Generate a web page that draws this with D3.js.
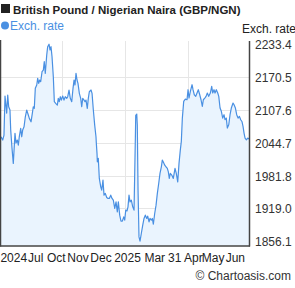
<!DOCTYPE html>
<html>
<head>
<meta charset="utf-8">
<script src="https://cdn.jsdelivr.net/npm/d3@7"></script>
<style>
  body { margin: 0; background: #fff; }
  svg { display: block; font-family: "Liberation Sans", Arial, sans-serif; }
</style>
</head>
<body>
<svg id="chart"></svg>
<script>
// GBP/NGN, day offset from the start of the window and the rate
const days = [0, 0.7, 2.5, 4.4, 5.9, 8.4, 9.9, 11.3, 13.2, 14.3, 16.2, 18.1, 20.6, 22.1, 24.0, 25.5, 26.9, 29.0, 30.5, 31.9,
  33.9, 35.8, 37.8, 40.2, 41.7, 44.2, 46.1, 47.5, 49.0, 50.5, 52.6, 54.0, 55.5, 57.0, 58.4, 60.4, 62.3, 63.7, 65.2, 67.3,
  68.7, 70.7, 72.1, 73.6, 75.1, 77.0, 78.5, 80.5, 82.9, 84.3, 85.8, 87.3, 88.8, 90.8, 92.7, 94.6, 96.7, 98.2, 100.1, 102.0,
  104.1, 106.0, 107.5, 108.9, 110.4, 111.9, 113.3, 115.3, 117.3, 118.8, 120.3, 122.2, 123.6, 125.1, 127.0, 128.5, 130.0, 132.5, 134.0, 135.9,
  137.9, 139.8, 140.3, 141.3, 141.8, 143.2, 144.7, 146.8, 148.2, 150.1, 151.6, 153.5, 155.6, 157.5, 159.4, 161.5, 163.4, 165.3, 167.4, 169.3,
  171.2, 172.7, 174.7, 176.6, 178.6, 180.6, 182.1, 183.6, 185.5, 186.9, 188.4, 189.9, 191.8, 193.9, 195.8, 196.8, 197.7, 198.3, 199.8, 200.6,
  201.7, 203.1, 204.6, 206.5, 208.6, 210.5, 212.4, 214.5, 215.9, 217.9, 219.3, 221.2, 222.7, 224.2, 226.2, 228.2, 230.1, 232.1, 234.0, 236.0,
  237.4, 238.9, 241.0, 242.9, 244.8, 246.3, 247.7, 249.2, 251.3, 253.6, 256.1, 258.0, 260.1, 262.0, 263.9, 265.4, 266.9, 268.9, 271.3, 273.8,
  275.3, 276.7, 278.7, 281.2, 282.6, 284.5, 286.6, 288.5, 290.4, 292.5, 294.4, 296.3, 297.8, 299.9, 301.8, 303.7, 305.7, 308.1, 310.1, 311.6,
  313.5, 315.0, 316.9, 319.0, 320.5, 322.4, 324.3, 326.3, 328.3, 329.7, 331.6, 333.1, 335.2, 337.1, 339.0, 341.5, 343.0, 345.0, 346.9, 348.9,
  350.9, 352.8, 354.8, 356.2, 357.7, 359.2, 361.2, 363.1, 365.0];
const rates = [2056.1, 2054.5, 2049.8, 2059.3, 2134.1, 2101.5, 2136.0, 2113.6, 2107.3, 2068.9, 2034.4, 2005.1, 2062.6, 2044.0, 2049.8, 2040.2, 2056.1, 2072.2, 2056.1, 2068.9,
  2075.2, 2094.4, 2107.3, 2097.7, 2091.3, 2084.8, 2100.9, 2113.6, 2110.5, 2148.9, 2155.2, 2168.0, 2158.4, 2164.8, 2161.5, 2180.7, 2183.9, 2199.9, 2177.6, 2212.7,
  2228.6, 2233.4, 2222.3, 2228.6, 2209.4, 2171.1, 2123.2, 2120.1, 2116.8, 2129.7, 2123.2, 2132.8, 2126.4, 2134.1, 2126.4, 2132.8, 2129.7, 2132.8, 2145.6, 2129.7,
  2123.2, 2148.9, 2164.8, 2155.2, 2177.6, 2164.8, 2158.4, 2139.3, 2129.7, 2113.6, 2129.7, 2126.4, 2123.2, 2126.4, 2110.5, 2129.7, 2142.3, 2145.6, 2139.3, 2107.3,
  2078.5, 2056.1, 2044.0, 2024.3, 2008.2, 2014.7, 1976.3, 1960.2, 1953.9, 1973.1, 1944.3, 1947.6, 1939.9, 1938.0, 1938.0, 1944.3, 1938.0, 1934.7, 1918.8, 1931.5,
  1912.3, 1931.5, 1906.0, 1894.5, 1894.5, 1902.7, 1896.4, 1915.6, 1914.2, 1921.9, 1944.3, 1931.5, 1934.7, 1921.9, 1915.6, 1985.9, 2049.8, 2097.1, 2099.6, 2078.5,
  1953.9, 1864.4, 1856.1, 1870.9, 1886.8, 1899.7, 1906.0, 1899.7, 1904.1, 1893.1, 1899.7, 1896.4, 1899.7, 1888.7, 1909.2, 1925.1, 1947.6, 1966.7, 1985.9, 1998.6,
  2011.4, 2007.6, 2001.8, 1998.6, 1995.5, 1989.0, 1976.3, 1985.9, 1982.7, 1976.3, 1995.5, 1985.9, 1969.8, 2005.1, 2030.6, 2047.3, 2091.9, 2123.9, 2128.3, 2127.0,
  2146.2, 2130.3, 2143.1, 2155.8, 2146.2, 2136.6, 2133.5, 2139.9, 2146.2, 2136.6, 2127.0, 2114.4, 2127.0, 2130.3, 2133.5, 2139.9, 2133.5, 2139.9, 2152.7, 2139.9,
  2146.2, 2139.9, 2146.2, 2139.9, 2133.5, 2111.1, 2104.8, 2091.9, 2098.3, 2088.7, 2091.9, 2072.8, 2079.1, 2098.3, 2111.1, 2120.7, 2117.4, 2111.1, 2098.3, 2091.9,
  2095.2, 2088.7, 2084.8, 2076.0, 2063.2, 2053.6, 2050.3, 2053.6, 2051.7];

const yTicks = [2233.4, 2170.5, 2107.6, 2044.7, 1981.8, 1919.0, 1856.1];
const xLabels = ["2024", "Jul", "Oct", "Nov", "Dec", "2025", "Mar", "31 Apr", "May", "Jun"];
const xLabelDays = [18.8, 51.1, 81.4, 113.3, 147.2, 186.2, 226.3, 271.3, 312.1, 344.9];
const gridDays = [90.2, 183.0, 274.8];

const W = 295, H = 288;
const plotL = 1, plotR = 249, plotT = 41, plotB = 245.5;

const svg = d3.select("#chart").attr("width", W).attr("height", H);

const x = d3.scaleLinear().domain([0, 365]).range([plotL, plotR]);
const y = d3.scaleLinear().domain([1847.9, 2239.5]).range([plotB, plotT]);

// grid
svg.append("g").selectAll("line")
  .data(yTicks.slice(1, -1)).enter().append("line")
  .attr("x1", plotL).attr("x2", plotR)
  .attr("y1", d => Math.round(y(d)) + 0.5).attr("y2", d => Math.round(y(d)) + 0.5)
  .attr("stroke", "#e6e6e6");
svg.append("g").selectAll("line")
  .data(gridDays).enter().append("line")
  .attr("x1", d => Math.round(x(d)) + 0.5).attr("x2", d => Math.round(x(d)) + 0.5)
  .attr("y1", plotT).attr("y2", plotB)
  .attr("stroke", "#e6e6e6");

const pts = days.map((d, i) => [d, rates[i]]);

svg.append("path")
  .datum(pts)
  .attr("fill", "#eaf4fe")
  .attr("d", d3.area().x(d => x(d[0])).y0(plotB).y1(d => y(d[1])));

svg.append("path")
  .datum(pts)
  .attr("fill", "none")
  .attr("stroke", "#4a90e2")
  .attr("stroke-width", 1.2)
  .attr("stroke-linejoin", "round")
  .attr("d", d3.line().x(d => x(d[0])).y(d => y(d[1])));

// axes frame
svg.append("line").attr("x1", 0.5).attr("x2", 0.5).attr("y1", plotT - 1).attr("y2", plotB + 1)
  .attr("stroke", "#444").attr("stroke-width", 1.5);
svg.append("line").attr("x1", plotR + 0.5).attr("x2", plotR + 0.5).attr("y1", plotT).attr("y2", plotB + 1)
  .attr("stroke", "#444").attr("stroke-width", 1.5);
svg.append("line").attr("x1", 0).attr("x2", plotR + 1).attr("y1", plotB + 0.5).attr("y2", plotB + 0.5)
  .attr("stroke", "#444").attr("stroke-width", 1.5);

// y labels
svg.append("g").selectAll("text")
  .data(yTicks).enter().append("text")
  .attr("x", 255).attr("y", d => y(d) + 5)
  .attr("font-size", 12).attr("fill", "#333")
  .text(d => d.toFixed(1));

// x labels
svg.append("g").selectAll("text")
  .data(xLabels).enter().append("text")
  .attr("x", (d, i) => x(xLabelDays[i])).attr("y", 261.5)
  .attr("text-anchor", "middle")
  .attr("font-size", 12).attr("fill", "#222")
  .text(d => d);

// title + legend
svg.append("rect").attr("x", 1).attr("y", 4).attr("width", 9).attr("height", 9).attr("fill", "#222");
svg.append("text").attr("x", 13).attr("y", 13.5)
  .attr("font-size", 11.5).attr("font-weight", "bold").attr("fill", "#222")
  .text("British Pound / Nigerian Naira (GBP/NGN)");
svg.append("circle").attr("cx", 5).attr("cy", 25.5).attr("r", 4).attr("fill", "#4a90e2");
svg.append("text").attr("x", 10).attr("y", 29.5)
  .attr("font-size", 12).attr("fill", "#4a90e2").text("Exch. rate");
svg.append("text").attr("x", 296).attr("y", 33)
  .attr("text-anchor", "end").attr("font-size", 12).attr("fill", "#222").text("Exch. rate");

svg.append("text").attr("x", 291).attr("y", 280)
  .attr("text-anchor", "end").attr("font-size", 12).attr("fill", "#333").text("\u00a9 Chartoasis.com");
</script>
</body>
</html>
